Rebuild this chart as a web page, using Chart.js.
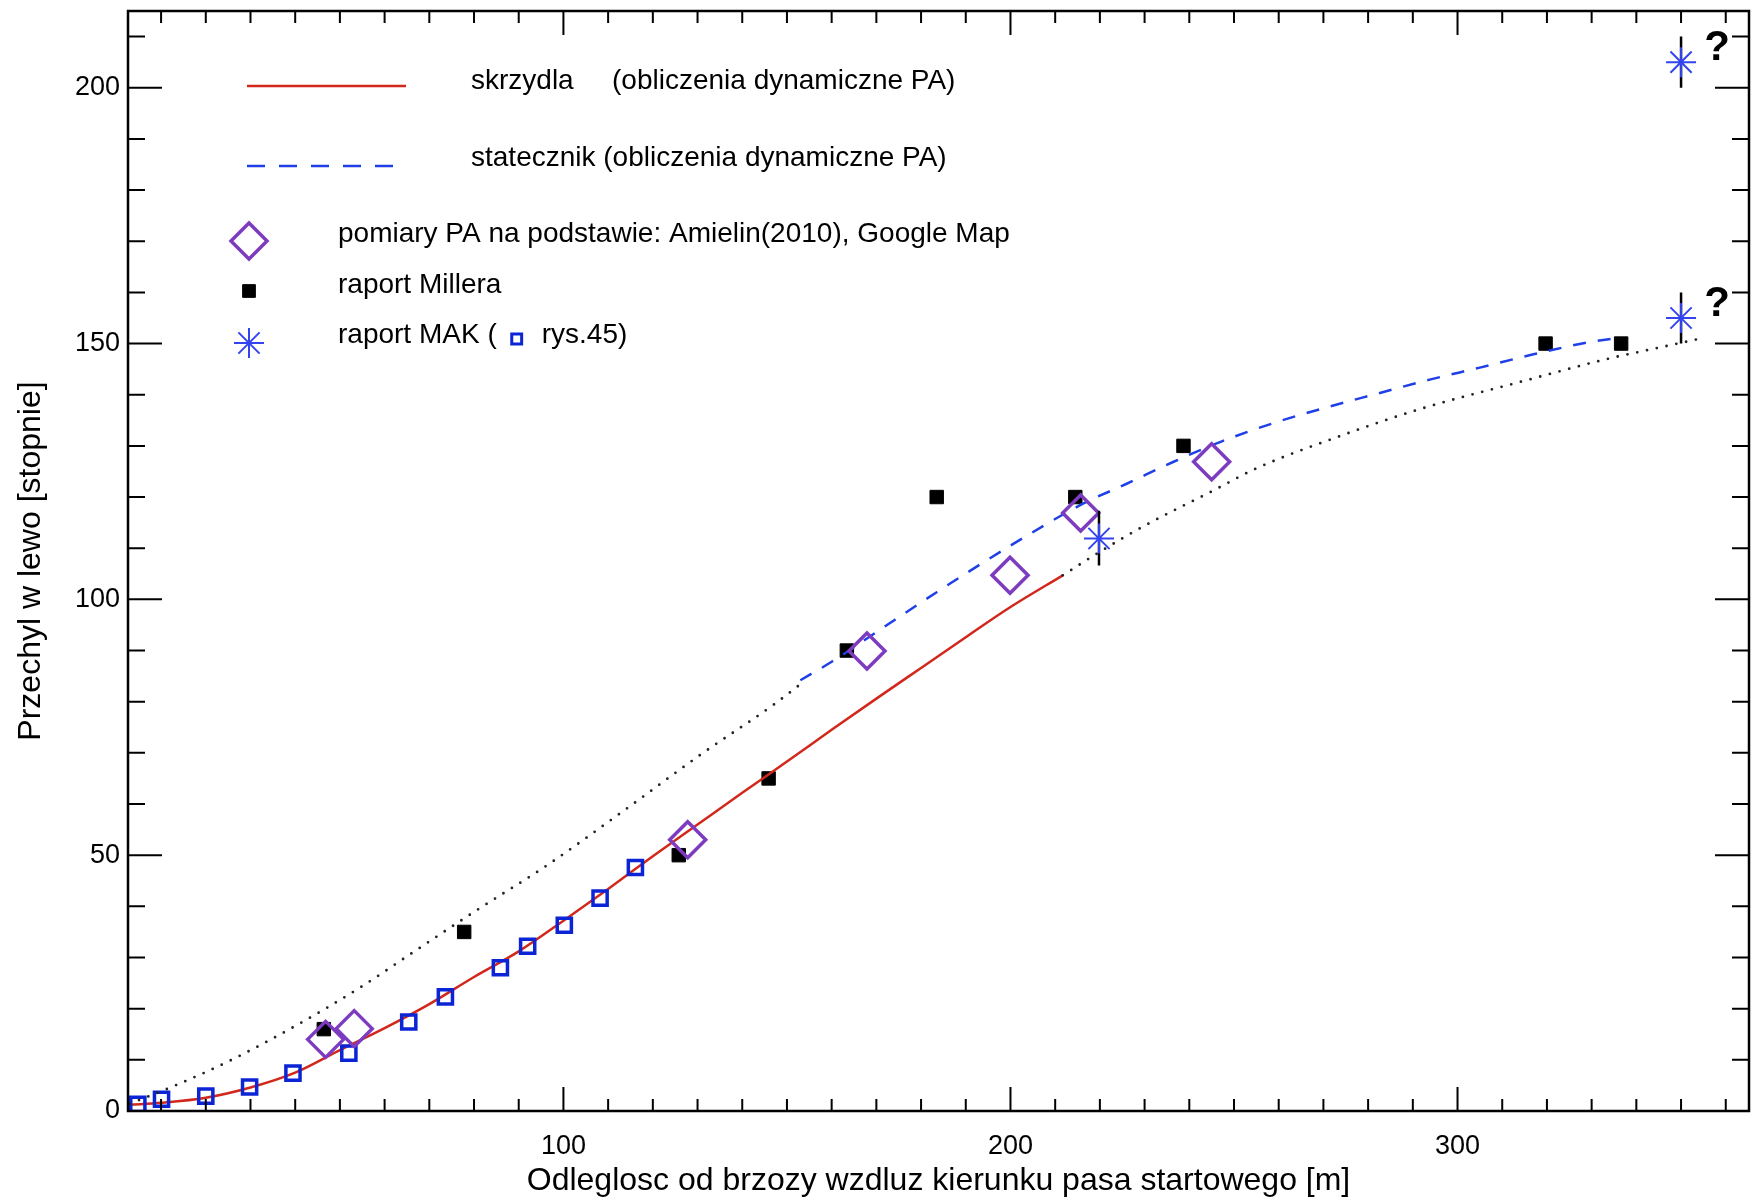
<!DOCTYPE html>
<html>
<head>
<meta charset="utf-8">
<script src="https://cdn.jsdelivr.net/npm/chart.js@4.4.1/dist/chart.umd.min.js"></script>
<style>
  html, body { margin: 0; padding: 0; background: #fff; }
</style>
</head>
<body>
<canvas id="chart" width="1758" height="1201"></canvas>
<script>
// ── DATA ──────────────────────────────────────────────────────────────────────
// skrzydla (red, solid)
const wingX = [3, 10, 20, 30, 40, 50, 60, 70, 80, 90, 100, 110, 120, 130, 140, 150, 160, 170, 180, 190, 200, 211.7];
const wingY = [1.2, 1.6, 2.6, 4.6, 7.5, 11.9, 16.2, 20.9, 26.2, 31.2, 37.2, 43.4, 49.8, 56.0, 62.2, 68.3, 74.5, 80.6, 86.6, 92.6, 98.5, 104.7];

// statecznik (blue, dashed)
const finX = [153, 160, 170, 183.5, 200, 216, 226, 236.5, 247, 259, 271, 282, 294, 305, 317, 329, 335];
const finY = [84.2, 87.8, 93.6, 101.4, 110.5, 118.6, 122.6, 126.9, 130.8, 134.5, 137.6, 140.2, 143.0, 145.3, 147.9, 150.2, 151.0];

// dotted extensions
const dotLowX = [3, 14, 26, 41, 55, 66.5, 80.7, 96.3, 113.5, 130.6, 147, 153];
const dotLowY = [1.4, 5.3, 10.1, 17.1, 24.4, 31.1, 39.3, 48.0, 58.7, 69.6, 79.4, 83.4];
const dotHighX = [211.7, 220, 230, 245, 255, 273, 292, 314, 334, 344, 354.5];
const dotHighY = [104.7, 109.3, 114.4, 121.1, 125.6, 131.7, 137.3, 142.5, 147.1, 149.0, 151.0];

// raport MAK, rys.45 (blue open squares)
const makRysX = [4.8, 10.1, 20.0, 29.8, 39.5, 52.0, 65.4, 73.6, 85.9, 92.0, 100.2, 108.2, 116.1];
const makRysY = [1.3, 2.3, 2.9, 4.7, 7.4, 11.3, 17.4, 22.3, 28.0, 32.2, 36.3, 41.6, 47.6];

// raport Millera (black squares)
const millerX = [46.4, 77.8, 125.8, 145.9, 163.4, 183.5, 214.5, 238.7, 319.7, 336.6];
const millerY = [16, 35, 50, 65, 90, 120, 120, 130, 150, 150];

// pomiary PA (purple diamonds)
const pomiaryX = [46.8, 53.2, 127.8, 167.9, 199.9, 215.7, 245.0];
const pomiaryY = [14.0, 16.1, 53.0, 89.9, 104.7, 116.9, 126.9];

// raport MAK (asterisks with vertical bars)
const makStarX = [219.8, 350, 350];
const makStarY = [111.9, 155, 205];
const makErrLow = [106.6, 150, 200];
const makErrHigh = [117.3, 160, 210];
const makUncertain = [false, true, true];

// axes
const X_MIN = 2.6, X_MAX = 365.2, Y_MIN = 0, Y_MAX = 215;
const xMajorTicks = [100, 200, 300];
const yMajorTicks = [0, 50, 100, 150, 200];
const MINOR_STEP = 10;

const X_TITLE = 'Odleglosc od brzozy wzdluz kierunku pasa startowego [m]';
const Y_TITLE = 'Przechyl w lewo [stopnie]';

// ── STYLE ─────────────────────────────────────────────────────────────────────
const FONT = "'Liberation Sans', Arial, sans-serif";
const RED = '#d2281c';
const DASH_BLUE = '#1f3fe8';
const SQ_BLUE = '#0b24d6';
const STAR_BLUE = '#3344ee';
const PURPLE = '#7d3cc0';

const zip = (xs, ys) => xs.map((x, i) => ({ x, y: ys[i] }));

function minorTicks(min, max) {
    const out = [];
    for (let v = Math.ceil(min / MINOR_STEP) * MINOR_STEP; v <= max; v += MINOR_STEP) out.push({ value: v });
    return out;
}

const errData = [];
makStarX.forEach((x, i) => {
    errData.push({ x, y: makErrLow[i] }, { x, y: makErrHigh[i] }, { x, y: null });
});

function drawMarker(ctx, style, radius, bw, x, y, stroke, fill) {
    ctx.save();
    ctx.strokeStyle = stroke;
    ctx.fillStyle = fill || 'rgba(0,0,0,0)';
    ctx.lineWidth = bw;
    Chart.helpers.drawPoint(ctx, { pointStyle: style, radius, borderWidth: bw, rotation: 0 }, x, y);
    ctx.restore();
}

// ── PLUGINS ───────────────────────────────────────────────────────────────────
// IDL-like box with inward ticks on all four sides
const frameTicks = {
    id: 'frameTicks',
    afterDatasetsDraw(chart) {
        const { ctx, chartArea: a, scales: { x, y } } = chart;
        ctx.save();
        ctx.strokeStyle = '#000';
        ctx.lineWidth = 2;
        ctx.beginPath();
        x.ticks.forEach(t => {
            const px = x.getPixelForValue(t.value);
            const len = xMajorTicks.includes(t.value) ? 24 : 12;
            ctx.moveTo(px, a.bottom); ctx.lineTo(px, a.bottom - len);
            ctx.moveTo(px, a.top); ctx.lineTo(px, a.top + len);
        });
        y.ticks.forEach(t => {
            const py = y.getPixelForValue(t.value);
            const len = yMajorTicks.includes(t.value) ? 34 : 17;
            ctx.moveTo(a.left, py); ctx.lineTo(a.left + len, py);
            ctx.moveTo(a.right, py); ctx.lineTo(a.right - len, py);
        });
        ctx.stroke();
        ctx.lineWidth = 2.5;
        ctx.strokeRect(a.left, a.top, a.right - a.left, a.bottom - a.top);
        ctx.restore();
    }
};

// legend block and question marks
const legendBlock = {
    id: 'legendBlock',
    afterDraw(chart) {
        const { ctx, scales: { x, y } } = chart;
        ctx.save();
        ctx.font = `28px ${FONT}`;
        ctx.fillStyle = '#000';
        ctx.textBaseline = 'middle';
        ctx.textAlign = 'left';

        ctx.strokeStyle = RED;
        ctx.lineWidth = 2.5;
        ctx.beginPath(); ctx.moveTo(247, 86); ctx.lineTo(406, 86); ctx.stroke();
        ctx.fillText('skrzydla', 471, 81);
        ctx.fillText('(obliczenia dynamiczne PA)', 612, 81);

        ctx.strokeStyle = DASH_BLUE;
        ctx.setLineDash([18, 14]);
        ctx.beginPath(); ctx.moveTo(247, 166); ctx.lineTo(395, 166); ctx.stroke();
        ctx.setLineDash([]);
        ctx.fillText('statecznik (obliczenia dynamiczne PA)', 471, 158);

        drawMarker(ctx, 'rectRot', 18, 3.5, 249, 241, PURPLE);
        ctx.fillText('pomiary PA na podstawie: Amielin(2010), Google Map', 338, 234);

        drawMarker(ctx, 'rect', 9, 1, 249, 291, '#000', '#000');
        ctx.fillText('raport Millera', 338, 285);

        drawMarker(ctx, 'star', 15, 2, 249, 343, STAR_BLUE);
        const lead = 'raport MAK (';
        ctx.fillText(lead, 338, 335);
        const sqX = 338 + ctx.measureText(lead).width + 20;
        drawMarker(ctx, 'rect', 7, 3, sqX, 339, SQ_BLUE);
        ctx.fillText('rys.45)', sqX + 25, 335);

        // "?" next to the uncertain MAK values
        ctx.font = `bold 42px ${FONT}`;
        ctx.textAlign = 'center';
        makStarX.forEach((v, i) => {
            if (!makUncertain[i]) return;
            ctx.fillText('?', x.getPixelForValue(v) + 36, y.getPixelForValue(makStarY[i]) - 14);
        });
        ctx.restore();
    }
};

// ── CHART ─────────────────────────────────────────────────────────────────────
Chart.defaults.font.family = FONT;
Chart.defaults.color = '#000';

const lineBase = { showLine: true, pointRadius: 0, fill: false, cubicInterpolationMode: 'monotone' };

new Chart(document.getElementById('chart'), {
    type: 'scatter',
    data: {
        datasets: [
            { label: 'raport Millera', data: zip(millerX, millerY), pointStyle: 'rect', pointRadius: 9.5,
              backgroundColor: '#000', borderColor: '#000', borderWidth: 1, order: 9 },
            { ...lineBase, label: 'skrzydla', data: zip(wingX, wingY), borderColor: RED, borderWidth: 2.5, order: 8 },
            { label: 'raport MAK rys.45', data: zip(makRysX, makRysY), pointStyle: 'rect', pointRadius: 10,
              backgroundColor: 'rgba(0,0,0,0)', borderColor: SQ_BLUE, borderWidth: 3.5, order: 7 },
            { ...lineBase, label: 'dotted low', data: zip(dotLowX, dotLowY), borderColor: '#222', borderWidth: 2.8,
              borderDash: [0, 10], borderCapStyle: 'round', order: 6 },
            { ...lineBase, label: 'dotted high', data: zip(dotHighX, dotHighY), borderColor: '#222', borderWidth: 2.8,
              borderDash: [0, 10], borderCapStyle: 'round', order: 6 },
            { ...lineBase, label: 'statecznik', data: zip(finX, finY), borderColor: DASH_BLUE, borderWidth: 2.5,
              borderDash: [13, 12], order: 5 },
            { label: 'pomiary PA', data: zip(pomiaryX, pomiaryY), pointStyle: 'rectRot', pointRadius: 18,
              backgroundColor: 'rgba(0,0,0,0)', borderColor: PURPLE, borderWidth: 3.5, order: 4 },
            { label: 'MAK bars', data: errData, showLine: true, spanGaps: false, pointRadius: 0,
              borderColor: '#000', borderWidth: 2.5, order: 3 },
            { label: 'raport MAK', data: zip(makStarX, makStarY), pointStyle: 'star', pointRadius: 15,
              borderColor: STAR_BLUE, borderWidth: 2, order: 2 },
        ],
    },
    options: {
        responsive: false,
        animation: false,
        devicePixelRatio: 1,
        layout: { autoPadding: false, padding: { top: 11, right: 9, left: 0, bottom: 0 } },
        plugins: { legend: { display: false }, tooltip: { enabled: false } },
        scales: {
            x: {
                type: 'linear',
                min: X_MIN, max: X_MAX,
                afterBuildTicks: s => { s.ticks = minorTicks(X_MIN, X_MAX); },
                afterFit: s => { s.height = 90; s.paddingLeft = 0; s.paddingRight = 0; },
                grid: { display: false, drawTicks: false },
                border: { display: false },
                ticks: {
                    autoSkip: false, maxRotation: 0, padding: 19,
                    font: { size: 27 }, color: '#000',
                    callback: v => xMajorTicks.includes(v) ? String(v) : '',
                },
                title: { display: true, text: X_TITLE, font: { size: 32 }, color: '#000', padding: { top: 0, bottom: 1 } },
            },
            y: {
                type: 'linear',
                min: Y_MIN, max: Y_MAX,
                afterBuildTicks: s => { s.ticks = minorTicks(Y_MIN, Y_MAX); },
                afterFit: s => { s.width = 128; s.paddingTop = 0; s.paddingBottom = 0; },
                grid: { display: false, drawTicks: false },
                border: { display: false },
                ticks: {
                    autoSkip: false, padding: 8,
                    font: { size: 27 }, color: '#000',
                    callback: v => yMajorTicks.includes(v) ? String(v) : '',
                },
                title: { display: true, text: Y_TITLE, font: { size: 32 }, color: '#000', padding: { top: 12, bottom: 0 } },
            },
        },
    },
    plugins: [frameTicks, legendBlock],
});
</script>
</body>
</html>
